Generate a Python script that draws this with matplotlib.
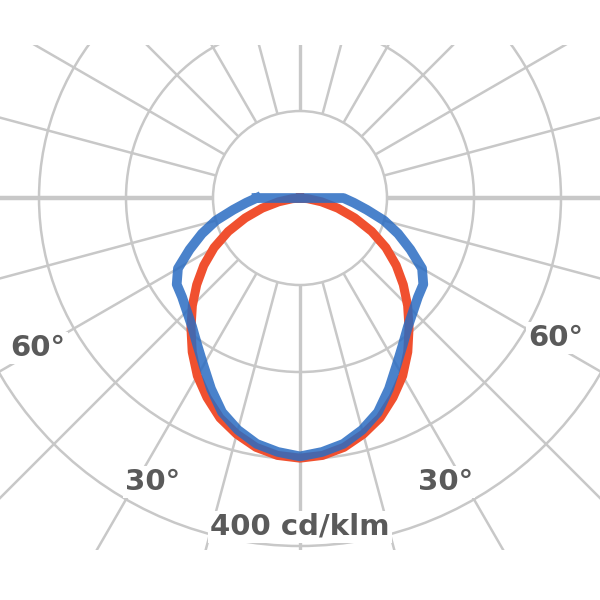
import numpy as np
import matplotlib
matplotlib.use("Agg")
import matplotlib.pyplot as plt
from matplotlib.patches import Circle

# luminous intensity (cd/klm) vs angle from nadir, symmetric halves
ANGLES = [0, 5, 10, 15, 20, 25, 30, 35, 40, 45, 50, 55, 60, 65, 70, 75, 80, 85, 90]
C0_C180 = [299, 297, 291, 281, 269, 253, 236, 216, 195, 175, 155, 135, 114, 91, 67, 45, 25, 9, 0]
C90_C270 = [297, 293, 287, 276, 262, 242, 222, 206, 193, 184, 177, 173, 162, 140, 120, 100, 78, 62, 50]

RINGS = [100, 200, 300, 400]
SPOKES = list(range(0, 360, 15))
GRID = "#c8c8c8"


def _xy(ang, vals):
    a = np.concatenate([-np.array(ang[::-1]), np.array(ang[1:]), [180, -ang[-1]]])
    r = np.concatenate([np.array(vals[::-1]), np.array(vals[1:]), [0, vals[-1]]])
    t = np.radians(a)
    return r * np.sin(t), -r * np.cos(t)


fig = plt.figure(figsize=(6, 6), dpi=100)
ax = fig.add_axes([0, 50 / 600, 1, 505 / 600])
ax.set_xlim(-344.8, 344.8)
ax.set_ylim(-404.6, 175.9)
ax.set_aspect("equal")
ax.axis("off")

# polar grid: rings + spokes starting at the first ring
for r in RINGS:
    ax.add_patch(Circle((0, 0), r, fill=False, ec=GRID, lw=1.8, zorder=1))
for s in SPOKES:
    t = np.radians(s)
    lw = 3.2 if s in (90, 270) else (2.4 if s in (0, 180) else 1.8)
    ax.plot([100 * np.sin(t), 800 * np.sin(t)], [-100 * np.cos(t), -800 * np.cos(t)],
            color=GRID, lw=lw, zorder=1, solid_capstyle="butt")

# curves
x, y = _xy(ANGLES, C0_C180)
ax.plot(x, y, color="#f0502f", lw=6.5, zorder=3, solid_joinstyle="round")
x, y = _xy(ANGLES, C90_C270)
ax.plot(x, y, color="#2a6cc2", lw=7, alpha=0.85, zorder=4, solid_joinstyle="round")

# labels
box = dict(facecolor="white", edgecolor="none", pad=1.5)
lab = dict(fontsize=21, fontweight="bold", color="#5a5a5a", ha="center", va="center",
           zorder=5, bbox=box)
ax.text(-301, -172, "60°", **lab)
ax.text(294, -161, "60°", **lab)
ax.text(-169, -326, "30°", **lab)
ax.text(167, -326, "30°", **lab)
ax.text(0, -378, "400 cd/klm", **lab)

fig.savefig("out.png", dpi=100)
